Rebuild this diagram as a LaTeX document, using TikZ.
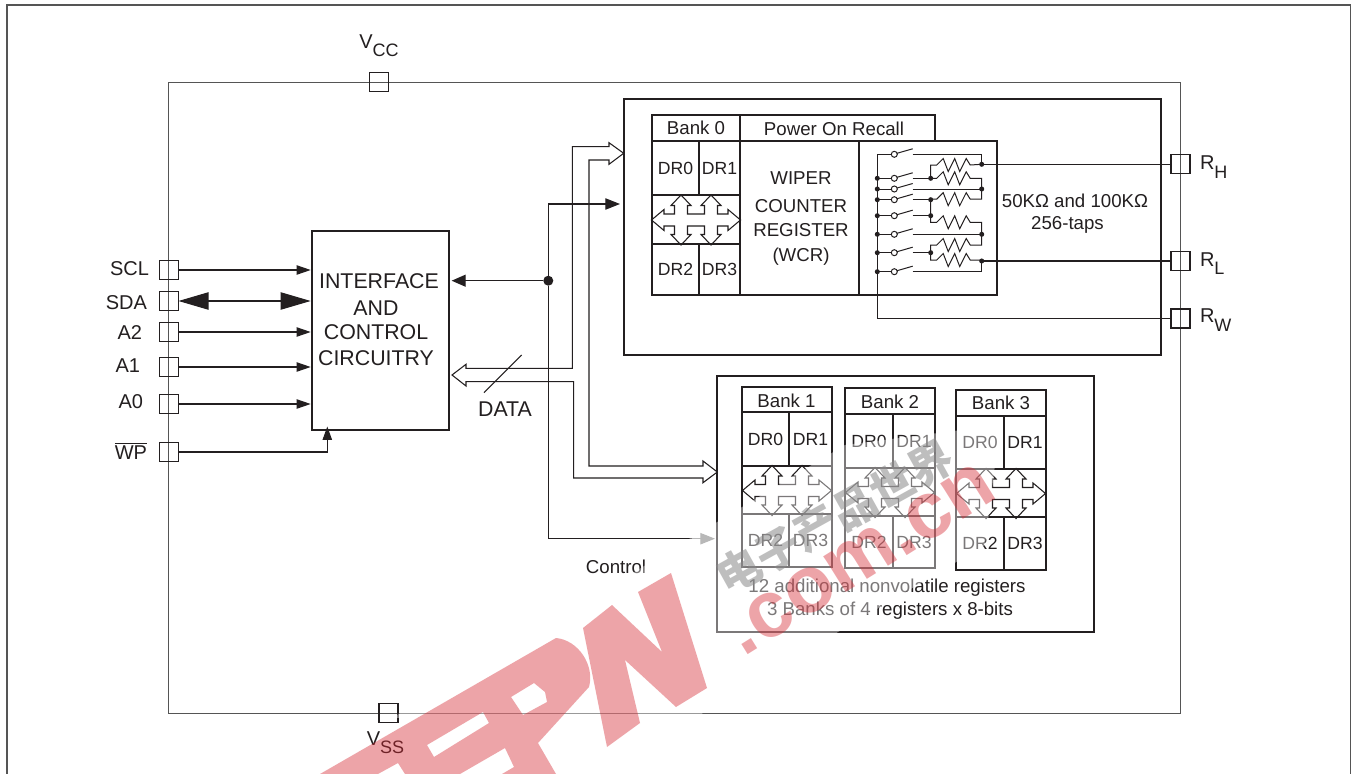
\documentclass[tikz,border=0pt]{standalone}
\usepackage{fontspec}
\setmainfont{Liberation Sans}
\newfontfamily\cjkf{Noto Sans CJK SC}
\usetikzlibrary{arrows.meta,calc}
\definecolor{ink}{HTML}{231F20}
\definecolor{framec}{HTML}{555555}
\definecolor{marka}{HTML}{D62832}
\definecolor{markb}{HTML}{8A8A8A}
\newcommand\SubT[2]{#1\raisebox{-0.42em}{\fontsize{13.5}{14}\selectfont #2}}
\newcommand\BusCross[2]{%
  \draw[thinline,shift={({#1},{#2})}] (-44.5,0)--(-32,-10.5)--(-32,-6)--(-21.5,-6)--(-21.5,-14.5)--(-25,-14.5)--(-15,-25)--(-5,-14.5)--(-8.5,-14.5)--(-8.5,-6)--(8.5,-6)--(8.5,-14.5)--(5,-14.5)--(15,-25)--(25,-14.5)--(21.5,-14.5)--(21.5,-6)--(32,-6)--(32,-10.5)--(44.5,0)--(32,10.5)--(32,6)--(21.5,6)--(21.5,14.5)--(25,14.5)--(15,25)--(5,14.5)--(8.5,14.5)--(8.5,6)--(-8.5,6)--(-8.5,14.5)--(-5,14.5)--(-15,25)--(-25,14.5)--(-21.5,14.5)--(-21.5,6)--(-32,6)--(-32,10.5)--cycle;}
% name, x0, xm, x1, y0, y1, y2, y3, y4
\newcommand\BankBlock[9]{%
  \draw[thinline] (#2,#5) rectangle (#4,#9);
  \draw[thinline] (#2,#6)--(#4,#6) (#2,#7)--(#4,#7) (#2,#8)--(#4,#8) (#3,#6)--(#3,#7) (#3,#8)--(#3,#9);
  \node[dr] (#1a) at ({(#2+#3)/2},{(#6+#7)/2}) {DR0};
  \node[dr] (#1b) at ({(#3+#4)/2},{(#6+#7)/2}) {DR1};
  \node[dr] (#1c) at ({(#2+#3)/2},{(#8+#9)/2}) {DR2};
  \node[dr] (#1d) at ({(#3+#4)/2},{(#8+#9)/2}) {DR3};
  \BusCross{(#2+#4)/2}{(#7+#8)/2+0.5}}
\newcommand\ResP[2]{% left x of zigzag, y
  (#1,#2)--(#1+6.5,#2-6.5)--(#1+11.5,#2+6.5)--(#1+18,#2-6.5)--(#1+23,#2+6.5)--(#1+29.5,#2-6.5)--(#1+33.5,#2)}
\tikzset{
  thinline/.style={draw=ink,line width=0.8pt,line join=miter},
  heavybox/.style={draw=ink,line width=1.9pt},
  lab/.style={font=\fontsize{14}{16}\selectfont,text=ink,inner sep=0pt,outer sep=0pt},
  biglab/.style={font=\fontsize{16}{18}\selectfont,text=ink,inner sep=0pt,outer sep=0pt},
  pinlab/.style={font=\fontsize{15}{17}\selectfont,text=ink,inner sep=0pt,outer sep=0pt},
  leftlab/.style={font=\fontsize{15}{17}\selectfont,text=ink,inner sep=0pt,outer sep=0pt,anchor=east},
  dr/.style={font=\fontsize{13.2}{15}\selectfont,text=ink,inner sep=0pt,outer sep=0pt},
  pinbox/.style={draw=ink,line width=0.8pt,minimum size=14.25pt,inner sep=0pt,outer sep=0pt},
  tipsmall/.style={-{Triangle[length=10.5pt,width=7pt]},shorten >=1pt},
  dotn/.style={circle,fill=ink,inner sep=0pt,outer sep=0pt,minimum size=3.8pt},
  sw/.style={draw=ink,line width=0.75pt},
}
\begin{document}
\begin{tikzpicture}[x=0.75pt,y=-0.75pt]
\path[use as bounding box] (0,0) rectangle (1356,774);
\clip (0,0) rectangle (1356,774);
\fill[white] (0,0) rectangle (1356,774);
% frames
\draw[framec,line width=1pt] (7,790)--(7,5)--(1350.5,5)--(1350.5,790);
\draw[framec,line width=1pt] (168.5,82.5) rectangle (1180.5,713.5);
% pins
\node[pinbox] (pVCC) at (379,82) {};
\node[pinbox] (pVSS) at (388.5,713) {};
\node[pinbox] (pSCL) at (169,270) {};
\node[pinbox] (pSDA) at (169,301) {};
\node[pinbox] (pA2) at (169,332) {};
\node[pinbox] (pA1) at (169,367) {};
\node[pinbox] (pA0) at (169,404) {};
\node[pinbox] (pWP) at (169,452) {};
\node[pinbox] (pRH) at (1180.5,164.3) {};
\node[pinbox] (pRL) at (1180.5,261) {};
\node[pinbox] (pRW) at (1180.5,318.5) {};
% pin labels
\node[pinlab] (tVCC) at (379,46) {\SubT{V}{CC}};
\node[pinlab] (tVSS) at (385.5,743) {\SubT{V}{SS}};
\node[leftlab] (tSCL) at (149,269) {SCL};
\node[leftlab] (tSDA) at (147,303) {SDA};
\node[leftlab] (tA2) at (142,333) {A2};
\node[leftlab] (tA1) at (140,366) {A1};
\node[leftlab] (tA0) at (143,402) {A0};
\node[leftlab] (tWP) at (147,451) {$\overline{\hbox{WP}}$};
\node[pinlab,anchor=west] (tRH) at (1200,167) {\SubT{R}{H}};
\node[pinlab,anchor=west] (tRL) at (1200,263.5) {\SubT{R}{L}};
\node[pinlab,anchor=west] (tRW) at (1200,320) {\SubT{R}{W}};
% interface block
\node[heavybox,minimum width=102.75pt,minimum height=149.25pt,inner sep=0pt,outer sep=0pt] (iface) at (380.5,330.5) {};
\node[biglab] (i1) at (379,281) {INTERFACE};
\node[biglab] (i2) at (376,308) {AND};
\node[biglab] (i3) at (376,332) {CONTROL};
\node[biglab] (i4) at (376,358) {CIRCUITRY};
% pin connectors
\draw[thinline,tipsmall] (pSCL.east)--(iface.west|-pSCL);
\draw[thinline,tipsmall] (pA2.east)--(iface.west|-pA2);
\draw[thinline,tipsmall] (pA1.east)--(iface.west|-pA1);
\draw[thinline,tipsmall] (pA0.east)--(iface.west|-pA0);
\draw[thinline,{Triangle[length=22.5pt,width=13pt]}-{Triangle[length=22.5pt,width=13pt]},shorten >=1pt] (pSDA.east)--(iface.west|-pSDA);
\coordinate (wpcorner) at (327.3,452);
\draw[thinline,-{Triangle[length=10pt,width=7pt]}] (pWP.east)--(wpcorner)--(327.3,426.5);
% big boxes
\node[heavybox,minimum width=402.75pt,minimum height=192pt,inner sep=0pt,outer sep=0pt] (box0) at (892.5,227) {};
\node[heavybox,minimum width=282.75pt,minimum height=192pt,inner sep=0pt,outer sep=0pt] (box1) at (905.5,504) {};
% bank 0
\BankBlock{bz}{652}{699}{740}{115}{141}{195}{244}{295}
\draw[thinline] (740,115) rectangle (935,141);
\draw[thinline] (740,141) rectangle (859,295);
\draw[thinline] (859,141) rectangle (997,295);
\node[lab] (b0t) at (696,128) {Bank 0};
\node[lab] (port) at (834,129) {Power On Recall};
\node[lab] (w1) at (801,178.5) {WIPER};
\node[lab] (w2) at (801,206.5) {COUNTER};
\node[lab] (w3) at (801,230.5) {REGISTER};
\node[lab] (w4) at (801,257) {(WCR)};
\node[lab] (ohm) at (1075,201) {50KΩ and 100KΩ};
\node[lab] (taps) at (1067.5,225) {256-taps};
% other banks
\BankBlock{ba}{742}{789}{832}{387}{412}{466}{514}{567}
\BankBlock{bb}{845}{893}{935}{388}{414}{468}{516}{568}
\BankBlock{bc}{956}{1004}{1046}{390}{416}{469}{517}{570}
\node[lab] (b1t) at (786.5,400.5) {Bank 1};
\node[lab] (b2t) at (890,401.5) {Bank 2};
\node[lab] (b3t) at (1001,403) {Bank 3};
\node[lab] (n1) at (887,588) {12 additional nonvolatile registers};
\node[lab] (n2) at (890,610.5) {3 Banks of 4 registers x 8-bits};
% switches and resistor network
\coordinate (busTop) at (877.3,154.3);
\draw[sw] (busTop)--(busTop|-pRW.west)--(pRW.west);
\foreach \ys in {154.3,178.3,189,199.7,215.7,234.3,252.7,271.7}{
  \draw[sw] (877.3,\ys)--(891.3,\ys);
  \draw[sw] (894.3,\ys) circle (3);
  \draw[sw] (897,\ys-1)--(912.7,\ys-5.5);
}
\foreach \ys in {178.3,189,199.7,215.7,234.3,252.7,271.7}{\node[dotn] at (877.3,\ys) {};}
\draw[sw] (912.7,154.3)--(981.7,154.3)--(981.7,164.3);
\draw[sw] (912.7,178.3)--(930.7,178.3);
\draw[sw] (912.7,189)--(981.7,189);
\draw[sw] (912.7,199.7)--(930.7,199.7);
\draw[sw] (912.7,215.7)--(930.7,215.7);
\draw[sw] (912.7,234.3)--(981.7,234.3);
\draw[sw] (912.7,252.7)--(930.7,252.7);
\draw[sw] (912.7,271.7)--(981.7,271.7)--(981.7,261);
% resistors
\draw[sw] (930.7,178.3)--(930.7,165)--(936.7,165)--\ResP{936.7}{165}--(981.7,164.3);
\draw[sw] (930.7,178.3)--(936.7,178.3)--\ResP{936.7}{178.3}--(981.7,178.3)--(981.7,199.2)--(970.2,199.2);
\draw[sw] (930.7,199.2)--\ResP{936.7}{199.2};
\draw[sw] (930.7,199.2)--(930.7,222.3)--\ResP{936.7}{222.3}--(981.7,222.3)--(981.7,245)--(970.2,245);
\draw[sw] (930.7,252.7)--(930.7,245)--\ResP{936.7}{245};
\draw[sw] (930.7,252.7)--(930.7,260)--\ResP{936.7}{260}--(981.7,260);
% junction dots
\foreach \nm/\xd/\yd in {j1/981.7/164.3,j2/981.7/189,j3/981.7/234.3,j4/981.7/261,j5/930.7/178.3,j6/930.7/199.7,j7/930.7/215.7,j8/930.7/252.7}{\node[dotn] (\nm) at (\xd,\yd) {};}
\draw[thinline] (j1)--(pRH.west);
\draw[thinline] (j4)--(pRL.west);
% buses
\coordinate (busU) at (623.7,153.3);
\coordinate (busL) at (452,375);
\coordinate (busR) at (717.3,472);
\draw[thinline] (589,466)--(589,160)--(609,160)--(609,164.3)--(busU)--(609,142.7)--(609,146.7)--(572.3,146.7)--(572.3,368.3)--(466,368.3)--(466,364.3)--(busL)--(466,386)--(466,381.7)--(573.7,381.7)--(573.7,478)--(703,478)--(703,482.7)--(busR)--(703,461)--(703,466)--cycle;
% control
\node[circle,fill=ink,inner sep=0pt,outer sep=0pt,minimum width=7.5pt,minimum height=7pt] (ctl) at (548.3,280.7) {};
\draw[thinline,-{Triangle[length=10.5pt,width=9pt]},shorten >=2pt] (ctl)--(iface.east|-ctl);
\coordinate (ctlU) at (620,204);
\coordinate (ctlD) at (715,538.7);
\draw[thinline,-{Triangle[length=11pt,width=8.5pt]}] (ctl)--(ctl|-ctlU)--(ctlU);
\draw[thinline] (ctl)--(ctl|-ctlD)--(692,538.7);
\draw[draw=markb,line width=0.8pt,-{Triangle[length=11pt,width=8.5pt]}] (692,538.7)--(ctlD);
\coordinate (slashA) at (484,392.7);
\coordinate (slashB) at (521.7,355);
\draw[thinline] (slashA)--(slashB);
\node[biglab] (tdata) at (505,409) {DATA};
\node[lab] (tctl) at (616,567) {Control};
% watermark: pale band over the drawing
\fill[white,opacity=0.4] (392,718)--(845,445)--(1000,425)--(985,545)--(838,632)--(698,716)--cycle;
% watermark: letters
\fill[marka,opacity=0.42,even odd rule]
  (671,573)--(707,688)--(676,707)--(625,660)--(640,723)--(607,747)--(583,628)--(612,605)--(662,652)--(638,592)--cycle
  (556,638) .. controls (578,640) and (595,665) .. (589,687)--(538,743)--(556,774)--(320,774)--cycle
  (511,697)--(534,683)--(545,692)--(547,702)--(523,715)--cycle
  (427,745)--(483,712)--(489,723)--(434,757)--cycle
  (505,748)--(514,767)--(502,774)--(460,774)--cycle
  (398,763)--(405,774)--(378,774)--cycle;
\node[font=\fontsize{60}{60}\selectfont\bfseries,text=marka,text opacity=0.42,rotate=32,inner sep=0pt,anchor=base] (wma) at (872,577) {.com.cn};
\node[font=\cjkf\bfseries\fontsize{33}{33}\selectfont,text=markb,text opacity=0.55,rotate=29,inner sep=0pt] (wmb) at (835,517) {电子产品世界};
\end{tikzpicture}
\end{document}
